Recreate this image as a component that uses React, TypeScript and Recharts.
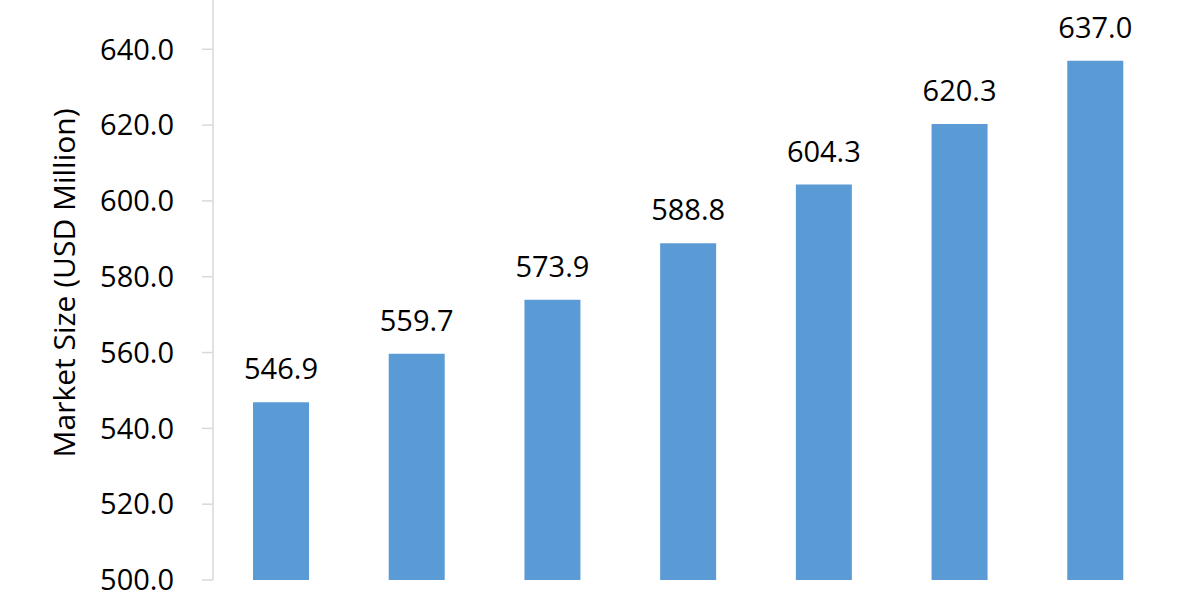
import { BarChart, Bar, XAxis, YAxis, LabelList } from "recharts";

// Market size by year (USD Million) — year labels are cropped off the reference
const years = ["2024", "2025", "2026", "2027", "2028", "2029", "2030"];
const marketSize = [546.9, 559.7, 573.9, 588.8, 604.3, 620.3, 637.0];
const yTicks = [500, 520, 540, 560, 580, 600, 620, 640];

const BAR_COLOR = "#5b9bd5";
const AXIS_COLOR = "#d9d9d9";
const FONT = "'Open Sans', sans-serif";

const data = years.map((year, i) => ({ year, value: marketSize[i] }));

export default function App() {
  return (
    <div style={{ width: 1200, height: 600, fontFamily: FONT }}>
      <style>{"body{margin:0}"}</style>
      <BarChart
        width={1200}
        height={600}
        data={data}
        margin={{ top: 0, right: 37, bottom: 20, left: 0 }}
      >
        <XAxis
          dataKey="year"
          height={0}
          tick={false}
          tickLine={false}
          axisLine={{ stroke: AXIS_COLOR, strokeWidth: 1.5 }}
        />
        <YAxis
          width={213}
          domain={[500, 653]}
          ticks={yTicks}
          allowDataOverflow
          interval={0}
          tickFormatter={(v: number) => v.toFixed(1)}
          tickSize={11}
          tickMargin={28}
          tickLine={{ stroke: AXIS_COLOR, strokeWidth: 1.5 }}
          axisLine={{ stroke: AXIS_COLOR, strokeWidth: 1.5 }}
          tick={{ fill: "#000", fontSize: 29, fontFamily: FONT }}
          label={{
            content: () => (
              <text
                x={63}
                y={283}
                transform="rotate(-90 63 283)"
                textAnchor="middle"
                dominantBaseline="central"
                fill="#000"
                fontSize={30}
                fontFamily={FONT}
              >
                Market Size (USD Million)
              </text>
            ),
          }}
        />
        <Bar dataKey="value" fill={BAR_COLOR} barSize={56} isAnimationActive={false}>
          <LabelList
            dataKey="value"
            position="top"
            offset={23}
            formatter={(v: number) => Number(v).toFixed(1)}
            fill="#000"
            fontSize={29}
            fontFamily={FONT}
          />
        </Bar>
      </BarChart>
    </div>
  );
}
